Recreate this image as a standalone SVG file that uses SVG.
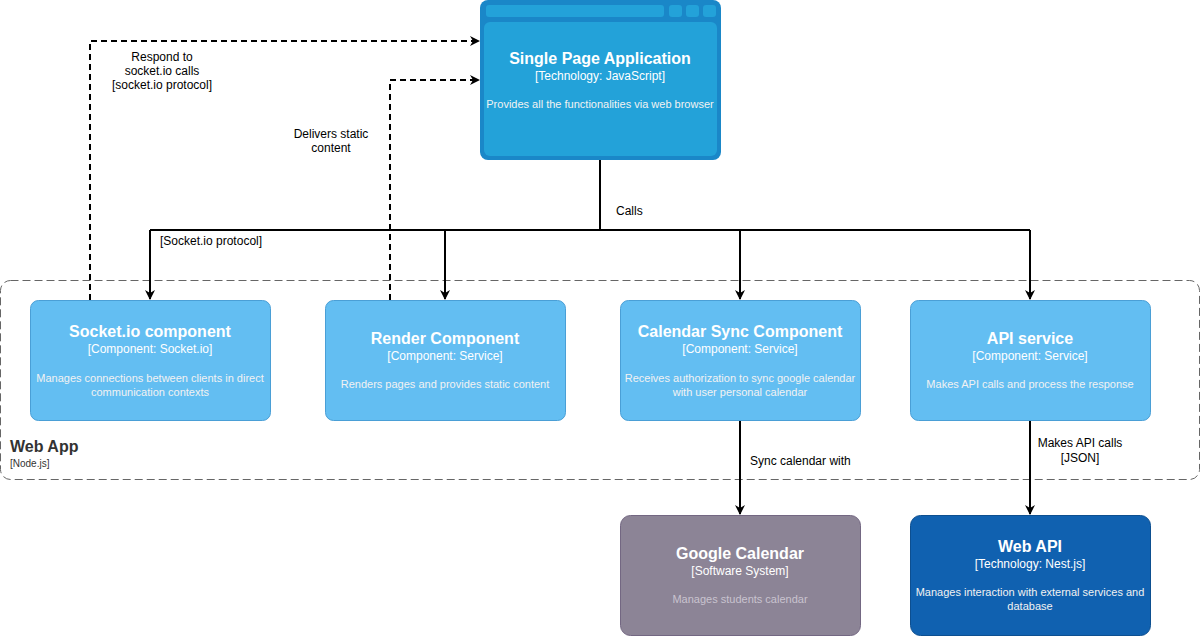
<svg xmlns="http://www.w3.org/2000/svg" width="1201" height="636" viewBox="0 0 1201 636">
<defs>
<marker id="arr" viewBox="0 0 10 10" refX="9" refY="5" markerWidth="10" markerHeight="10" markerUnits="userSpaceOnUse" orient="auto">
<path d="M0,0 L10,5 L0,10 L3,5 Z" fill="#000"/>
</marker>
</defs>
<style>
text{font-family:"Liberation Sans",Arial,Helvetica,sans-serif;}
.t{font-size:16px;font-weight:bold;fill:#fff;text-anchor:middle}
.s{font-size:12px;fill:#fff;text-anchor:middle}
.d{font-size:11px;fill:#f2f2f2;text-anchor:middle}
.lbl{font-size:12px;fill:#000}
.comp{fill:#63bef2;stroke:#4a9fd6;stroke-width:1}
.line{fill:none;stroke:#000;stroke-width:2}
.dash{fill:none;stroke:#000;stroke-width:2;stroke-dasharray:6,4}
</style>
<g id="webapp">
<rect x="0.5" y="280.5" width="1199" height="199" rx="10" fill="none" stroke="#666" stroke-width="1" stroke-dasharray="8,4"/>
<text x="10" y="452" style="font-size:16px;font-weight:bold;fill:#333">Web App</text>
<text x="10" y="467" style="font-size:10px;fill:#333">[Node.js]</text>
</g>
<g id="connectors">
<path class="line" d="M600,160 V230"/>
<path class="line" d="M150,230 H1030" style="stroke-width:2"/>
<path class="line" d="M150,230 V299" marker-end="url(#arr)"/>
<path class="line" d="M445,230 V299" marker-end="url(#arr)"/>
<path class="line" d="M740,230 V299" marker-end="url(#arr)"/>
<path class="line" d="M1030,230 V299" marker-end="url(#arr)"/>
<path class="line" d="M740,420 V514" marker-end="url(#arr)"/>
<path class="line" d="M1030,420 V514" marker-end="url(#arr)"/>
<path class="dash" d="M90,300 V41 H479" marker-end="url(#arr)"/>
<path class="dash" d="M390,300 V80 H479" marker-end="url(#arr)"/>
<text class="lbl" x="616" y="215">Calls</text>
<text class="lbl" x="160" y="245">[Socket.io protocol]</text>
<text class="lbl" x="162" y="61" text-anchor="middle">Respond to</text>
<text class="lbl" x="162" y="75" text-anchor="middle">socket.io calls</text>
<text class="lbl" x="162" y="89" text-anchor="middle">[socket.io protocol]</text>
<text class="lbl" x="331" y="138" text-anchor="middle">Delivers static</text>
<text class="lbl" x="331" y="152" text-anchor="middle">content</text>
<text class="lbl" x="750" y="465">Sync calendar with</text>
<text class="lbl" x="1080" y="447" text-anchor="middle">Makes API calls</text>
<text class="lbl" x="1080" y="462" text-anchor="middle">[JSON]</text>
</g>
<g id="spa">
<rect x="480" y="0" width="241" height="160" rx="8" fill="#1a87c8"/>
<rect x="484" y="22" width="233" height="134" rx="6" fill="#23a2d9"/>
<rect x="486" y="5" width="178" height="12" rx="3" fill="#23a2d9"/>
<rect x="669" y="5" width="13" height="12" rx="3" fill="#23a2d9"/>
<rect x="686" y="5" width="13" height="12" rx="3" fill="#23a2d9"/>
<rect x="703" y="5" width="13" height="12" rx="3" fill="#23a2d9"/>
<text class="t" x="600" y="64">Single Page Application</text>
<text class="s" x="600" y="80">[Technology: JavaScript]</text>
<text class="d" x="600" y="108">Provides all the functionalities via web browser</text>
</g>
<g id="socket">
<rect class="comp" x="30.5" y="300.5" width="240" height="120" rx="8"/>
<text class="t" x="150" y="337">Socket.io component</text>
<text class="s" x="150" y="353">[Component: Socket.io]</text>
<text class="d" x="150" y="382">Manages connections between clients in direct</text>
<text class="d" x="150" y="396">communication contexts</text>
</g>
<g id="render">
<rect class="comp" x="325.5" y="300.5" width="240" height="120" rx="8"/>
<text class="t" x="445" y="344">Render Component</text>
<text class="s" x="445" y="360">[Component: Service]</text>
<text class="d" x="445" y="388">Renders pages and provides static content</text>
</g>
<g id="calendar">
<rect class="comp" x="620.5" y="300.5" width="240" height="120" rx="8"/>
<text class="t" x="740" y="337">Calendar Sync Component</text>
<text class="s" x="740" y="353">[Component: Service]</text>
<text class="d" x="740" y="382">Receives authorization to sync google calendar</text>
<text class="d" x="740" y="396">with user personal calendar</text>
</g>
<g id="api">
<rect class="comp" x="910.5" y="300.5" width="240" height="120" rx="8"/>
<text class="t" x="1030" y="344">API service</text>
<text class="s" x="1030" y="360">[Component: Service]</text>
<text class="d" x="1030" y="388">Makes API calls and process the response</text>
</g>
<g id="google">
<rect x="620.5" y="515.5" width="240" height="120" rx="10" fill="#8c8496" stroke="#736782"/>
<text class="t" x="740" y="559">Google Calendar</text>
<text class="s" x="740" y="575">[Software System]</text>
<text class="d" x="740" y="603" style="fill:#c9c3cf">Manages students calendar</text>
</g>
<g id="webapi">
<rect x="910.5" y="515.5" width="240" height="120" rx="10" fill="#1061b0" stroke="#0d4f90"/>
<text class="t" x="1030" y="552">Web API</text>
<text class="s" x="1030" y="568">[Technology: Nest.js]</text>
<text class="d" x="1030" y="596">Manages interaction with external services and</text>
<text class="d" x="1030" y="610">database</text>
</g>
</svg>
